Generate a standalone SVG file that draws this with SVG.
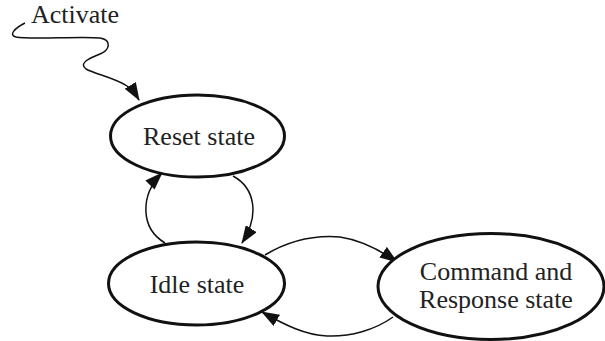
<svg xmlns="http://www.w3.org/2000/svg" width="605" height="341" viewBox="0 0 605 341">
<defs>
<marker id="ah" viewBox="0 0 18 13" refX="17" refY="6.5" markerWidth="18" markerHeight="13" markerUnits="userSpaceOnUse" orient="auto">
<path d="M0,0 L18,6.5 L0,13 Z" fill="#111"/>
</marker>
</defs>
<style>
.node{fill:#fff;stroke:#111;stroke-width:3}
.lbl{font-family:"Liberation Serif","Times New Roman",serif;font-size:26px;fill:#222;text-anchor:middle}
.edge{fill:none;stroke:#111;stroke-width:1.5;marker-end:url(#ah)}
</style>
<g id="connectors">
<path class="edge" d="M25,23 C15,28 8,35 16,37 C30,40 80,36 100,38 C112,40 110,50 100,54 C90,58 78,63 86,69 C95,74 115,78 127,86 C132,90 136,95 139,100"/>
<path class="edge" d="M233,176 C255,188 260,215 242,243"/>
<path class="edge" d="M165,243 C140,228 140,195 162,173"/>
<path class="edge" d="M265,255 C290,240 315,235 340,237 C360,240 380,250 397,262"/>
<path class="edge" d="M393,317 C375,330 350,337 327,336 C305,335 285,325 262,312"/>
</g>
<g id="activate">
<text class="lbl" x="75" y="23">Activate</text>
</g>
<g id="reset">
<ellipse class="node" cx="197.5" cy="136" rx="87" ry="41"/>
<text class="lbl" x="199" y="145">Reset state</text>
</g>
<g id="idle">
<ellipse class="node" cx="196.5" cy="283.5" rx="88" ry="41.5"/>
<text class="lbl" x="197" y="293">Idle state</text>
</g>
<g id="command">
<ellipse class="node" cx="491" cy="286.5" rx="113" ry="53"/>
<text class="lbl" x="496" y="280">Command and</text>
<text class="lbl" x="496" y="308">Response state</text>
</g>
</svg>
